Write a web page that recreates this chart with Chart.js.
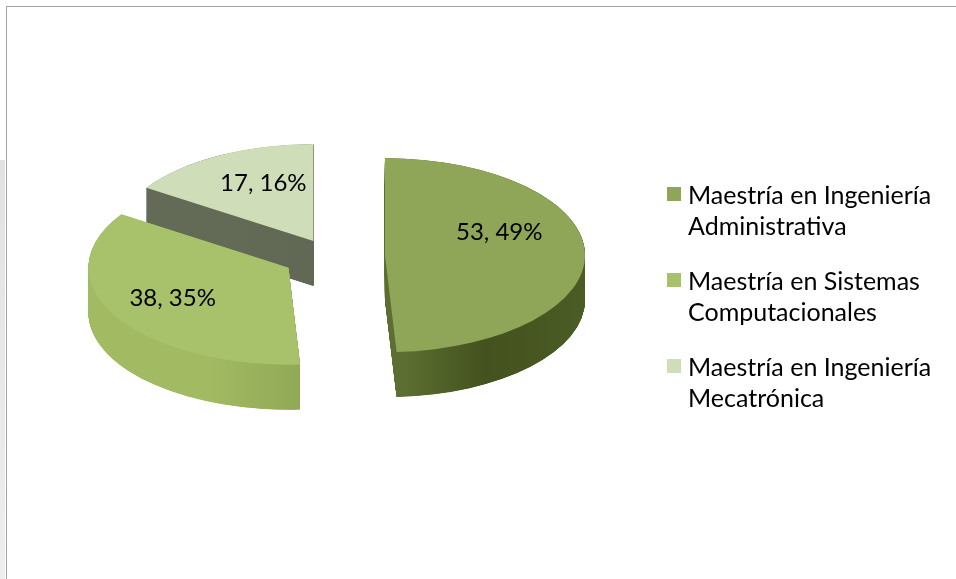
<!doctype html>
<html lang="es">
<head>
<meta charset="UTF-8">
<title>Maestrías</title>
<script src="https://cdn.jsdelivr.net/npm/chart.js@4.4.0/dist/chart.umd.min.js"></script>
<style>
    body { margin: 0; background: #fff; }
    #wrap { position: relative; width: 956px; height: 579px; overflow: hidden; background: #fff; }
    #frame { position: absolute; left: 6px; top: 6px; width: 970px; height: 600px;
             border-left: 1px solid #a3a3a3; border-top: 1px solid #a3a3a3; }
    #edge { position: absolute; left: 0; top: 160px; width: 5px; height: 419px;
            background: linear-gradient(#e2e2e2, #eeeeee); }
    canvas { position: absolute; left: 0; top: 0; }
    #legend { position: absolute; left: 667px; top: 179px; font-family: Lato, sans-serif;
              font-size: 25px; line-height: 31px; color: #000; }
    #legend .item { position: relative; padding-left: 21px; margin-bottom: 24px; white-space: nowrap; }
    #legend .box { position: absolute; left: 0; top: 8px; width: 14px; height: 14px; }
</style>
</head>
<body>
<div id="wrap">
    <div id="edge"></div>
    <div id="frame"></div>
    <canvas id="pie" width="956" height="579"></canvas>
    <div id="legend"></div>
</div>
<script>
    var labels = [
        ['Maestría en Ingeniería', 'Administrativa'],
        ['Maestría en Sistemas', 'Computacionales'],
        ['Maestría en Ingeniería', 'Mecatrónica']
    ];
    var values = [53, 38, 17];

    var topColors = ['#8FA658', '#A8C16B', '#CFDDB8'];
    var sideLight = ['#5C6E31', '#A2BA62', '#636A56'];
    var sideDark = ['#43521E', '#6F853C', '#5B6250'];

    // how far each slice is pulled out, and where its label sits
    var explode = [55, 48, 35];
    var labelRadius = [0.62, 0.66, 0.65];   // fraction of radius
    var labelTurn = [0.38, 0.51, 0.60];     // fraction of the slice's sweep
    var tilt = 0.485, depth = 45;

    var total = values.reduce(function (s, v) { return s + v; }, 0);

    var slicePath = function (ctx, p, ox, oy) {
        ctx.beginPath();
        ctx.moveTo(p.x + ox, p.y + oy);
        ctx.arc(p.x + ox, p.y + oy, p.outerRadius, p.startAngle, p.endAngle);
        ctx.closePath();
    };

    var pie3d = {
        id: 'pie3d',
        beforeDatasetsDraw: function (chart) {
            var ctx = chart.ctx;
            var arcs = chart.getDatasetMeta(0).data;
            var cx = arcs[0].x, cy = arcs[0].y;
            var order = [2, 0, 1]; // back to front

            var geo = arcs.map(function (a, i) {
                var p = a.getProps(['x', 'y', 'startAngle', 'endAngle', 'outerRadius']);
                var mid = (p.startAngle + p.endAngle) / 2;
                return {p: p, mid: mid, ox: Math.cos(mid) * explode[i], oy: Math.sin(mid) * explode[i]};
            });

            ctx.save();
            ctx.translate(cx, cy);
            ctx.scale(1, tilt);
            ctx.translate(-cx, -cy);

            // sides: stamp each slice downwards
            order.forEach(function (i) {
                var g = geo[i];
                var left = g.p.x + g.ox - g.p.outerRadius, right = g.p.x + g.ox + g.p.outerRadius;
                var grad = ctx.createLinearGradient(left, 0, right, 0);
                if (i === 0) {
                    grad.addColorStop(0.0, sideLight[i]);
                    grad.addColorStop(0.55, sideLight[i]);
                    grad.addColorStop(0.75, sideDark[i]);
                    grad.addColorStop(1.0, '#4C5C25');
                } else {
                    grad.addColorStop(0.0, sideLight[i]);
                    grad.addColorStop(0.3, sideLight[i]);
                    grad.addColorStop(1.0, sideDark[i]);
                }
                ctx.fillStyle = grad;
                for (var t = depth / tilt; t >= 0; t -= 0.5) {
                    slicePath(ctx, g.p, g.ox, g.oy + t);
                    ctx.fill();
                }
            });

            // tops drawn by the arc elements themselves
            order.forEach(function (i) {
                ctx.save();
                ctx.translate(geo[i].ox, geo[i].oy);
                arcs[i].draw(ctx);
                ctx.restore();
            });
            ctx.restore();

            // data labels
            ctx.save();
            ctx.fillStyle = '#000';
            ctx.font = '24px Lato, sans-serif';
            ctx.textAlign = 'center';
            ctx.textBaseline = 'middle';
            geo.forEach(function (g, i) {
                var ang = g.p.startAngle + (g.p.endAngle - g.p.startAngle) * labelTurn[i];
                var r = g.p.outerRadius * labelRadius[i];
                var x = g.p.x + g.ox + Math.cos(ang) * r;
                var y = g.p.y + g.oy + Math.sin(ang) * r;
                y = cy + (y - cy) * tilt;
                var pct = Math.round(values[i] / total * 100);
                ctx.fillText(values[i] + ', ' + pct + '%', x, y);
            });
            ctx.restore();
            return false;
        }
    };

    var chart = new Chart(document.getElementById('pie').getContext('2d'), {
        type: 'pie',
        data: {
            labels: labels,
            datasets: [{
                data: values,
                backgroundColor: topColors,
                borderWidth: 0,
                radius: 200
            }]
        },
        options: {
            responsive: false,
            animation: false,
            layout: {padding: {left: 0, right: 296, top: 0, bottom: 67}},
            plugins: {legend: {display: false}, tooltip: {enabled: false}}
        },
        plugins: [pie3d]
    });

    var legend = document.getElementById('legend');
    labels.forEach(function (lines, i) {
        var item = document.createElement('div');
        item.className = 'item';
        var box = document.createElement('span');
        box.className = 'box';
        box.style.background = topColors[i];
        item.appendChild(box);
        item.appendChild(document.createTextNode(lines[0]));
        item.appendChild(document.createElement('br'));
        item.appendChild(document.createTextNode(lines[1]));
        legend.appendChild(item);
    });
</script>
</body>
</html>
